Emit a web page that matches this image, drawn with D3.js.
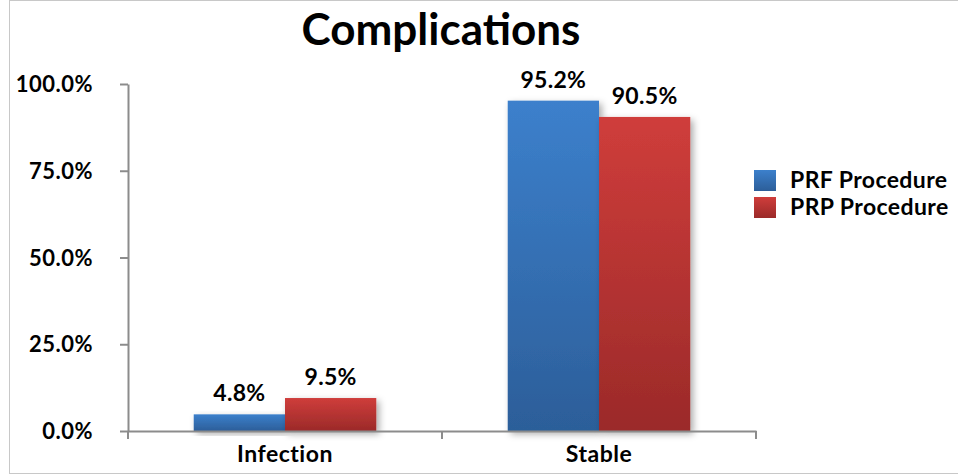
<!DOCTYPE html>
<html>
<head>
<meta charset="utf-8">
<script src="https://cdn.jsdelivr.net/npm/d3@7"></script>
<style>
  html, body { margin: 0; padding: 0; background: #fff; }
  svg { display: block; font-family: Lato, "Open Sans", sans-serif; }
</style>
</head>
<body>
<svg id="chart" width="958" height="476"></svg>
<script>
const categories = ["Infection", "Stable"];
const seriesNames = ["PRF Procedure", "PRP Procedure"];
const prfValues = [4.8, 95.2];
const prpValues = [9.5, 90.5];
const yTicks = [0, 25, 50, 75, 100];

const colors = {
  "PRF Procedure": ["#3c80cc", "#2c5e99"],
  "PRP Procedure": ["#cf3d3b", "#9b2a29"]
};

const FONT = "Lato, 'Open Sans', sans-serif";
const svg = d3.select("#chart");
const W = 958, H = 476;

// outer frame
svg.append("rect")
  .attr("x", 9.5).attr("y", 0.5).attr("width", W - 9).attr("height", 473)
  .attr("fill", "#fff").attr("stroke", "#c8c8c8").attr("stroke-width", 1);

const defs = svg.append("defs");
seriesNames.forEach((s, i) => {
  const g = defs.append("linearGradient")
    .attr("id", "grad" + i).attr("x1", 0).attr("y1", 0).attr("x2", 0).attr("y2", 1);
  g.append("stop").attr("offset", "0%").attr("stop-color", colors[s][0]);
  g.append("stop").attr("offset", "100%").attr("stop-color", colors[s][1]);
});
const f = defs.append("filter").attr("id", "shadow")
  .attr("x", "-20%").attr("y", "-20%").attr("width", "150%").attr("height", "150%");
f.append("feDropShadow").attr("dx", 3).attr("dy", 3).attr("stdDeviation", 3.5)
  .attr("flood-color", "#000").attr("flood-opacity", 0.33);

const plotLeft = 128, plotRight = 756, plotTop = 84, plotBottom = 431;

const x0 = d3.scaleBand().domain(categories).range([plotLeft, plotRight]).paddingInner(0).paddingOuter(0);
const x1 = d3.scaleBand().domain(seriesNames).range([0, x0.bandwidth()]).paddingInner(0).paddingOuter(0.72);
const y = d3.scaleLinear().domain([0, 100]).range([plotBottom, plotTop]);

// title
svg.append("text")
  .attr("x", 441).attr("y", 45)
  .attr("text-anchor", "middle")
  .attr("font-size", 44).attr("font-weight", "bold")
  .attr("fill", "#000")
  .text("Complications");

// y axis
const yAxis = svg.append("g")
  .attr("transform", `translate(${plotLeft},0)`)
  .call(d3.axisLeft(y).tickValues(yTicks).tickSize(8).tickSizeOuter(0)
    .tickFormat(d => d.toFixed(1) + "%"));
yAxis.selectAll("path, line").attr("stroke", "#8c8c8c").attr("stroke-width", 2);
yAxis.selectAll("text")
  .attr("x", -35).attr("dy", "0.35em")
  .attr("font-size", 22).attr("font-weight", "bold").attr("letter-spacing", 0.5)
  .attr("font-family", FONT).attr("fill", "#000");

// bars
const data = categories.map((c, i) => ({
  cat: c,
  vals: [{ s: seriesNames[0], v: prfValues[i], k: 0 }, { s: seriesNames[1], v: prpValues[i], k: 1 }]
}));

const groups = svg.append("g").selectAll("g").data(data).join("g")
  .attr("transform", d => `translate(${x0(d.cat)},0)`);

groups.selectAll("rect").data(d => d.vals).join("rect")
  .attr("x", d => x1(d.s))
  .attr("y", d => y(d.v))
  .attr("width", x1.bandwidth())
  .attr("height", d => y(0) - y(d.v))
  .attr("fill", d => `url(#grad${d.k})`)
  .attr("filter", "url(#shadow)");

groups.selectAll("text.val").data(d => d.vals).join("text")
  .attr("class", "val")
  .attr("x", d => x1(d.s) + x1.bandwidth() / 2)
  .attr("y", d => y(d.v) - 13)
  .attr("text-anchor", "middle")
  .attr("font-size", 23).attr("font-weight", "bold").attr("letter-spacing", 0.3)
  .attr("fill", "#000")
  .text(d => d.v.toFixed(1) + "%");

// x axis
const xAxis = svg.append("g")
  .attr("transform", `translate(0,${plotBottom})`)
  .call(d3.axisBottom(x0).tickSize(0).tickSizeOuter(0));
xAxis.select("path").attr("stroke", "#8c8c8c").attr("stroke-width", 2);
xAxis.selectAll("text")
  .attr("y", 31).attr("dy", 0)
  .attr("font-size", 23).attr("font-weight", "bold").attr("letter-spacing", 0.5)
  .attr("font-family", FONT).attr("fill", "#000");
// category boundary ticks
const bounds = [plotLeft, ...categories.map(c => x0(c) + x0.bandwidth())];
svg.append("g").selectAll("line").data(bounds).join("line")
  .attr("x1", d => d).attr("x2", d => d)
  .attr("y1", plotBottom).attr("y2", plotBottom + 8)
  .attr("stroke", "#8c8c8c").attr("stroke-width", 2);

// legend
const legend = svg.append("g").attr("transform", "translate(754,170)");
const li = legend.selectAll("g").data(seriesNames).join("g")
  .attr("transform", (d, i) => `translate(0,${i * 27})`);
li.append("rect").attr("width", 22).attr("height", 21)
  .attr("fill", (d, i) => `url(#grad${i})`);
li.append("text").attr("x", 36).attr("y", 18)
  .attr("font-size", 23).attr("font-weight", "bold").attr("letter-spacing", 0.4)
  .attr("fill", "#000")
  .text(d => d);
</script>
</body>
</html>
